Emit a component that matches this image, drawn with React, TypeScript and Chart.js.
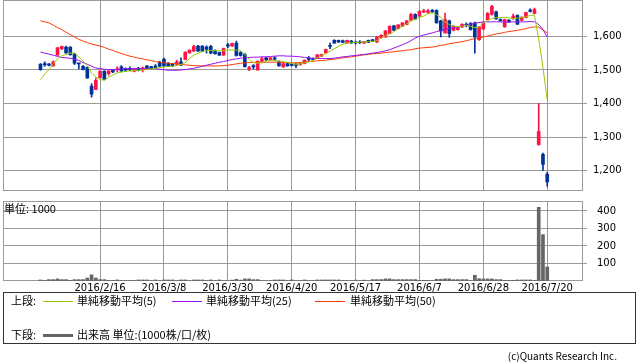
import React, { useEffect, useRef } from 'react';
import { Chart, registerables } from 'chart.js';

Chart.register(...registerables);

// ---- data (trading-day index 0 = 2016/1/26 ... 119 = 2016/7/20) ----
const openP = [
  1517, 1519, 1518, 1512, 1544, 1563, 1568, 1568, 1547, 1520, 1511, 1508, 1452, 1442, 1477, 1496, 1489, 1499, 1500, 1509,
  1504, 1504, 1496, 1505, 1501, 1512, 1510, 1512, 1523, 1532, 1520, 1517, 1517, 1524, 1531, 1551, 1556, 1571, 1571, 1568,
  1570, 1558, 1552, 1544, 1575, 1571, 1580, 1552, 1546, 1503, 1513, 1500, 1526, 1536, 1530, 1536, 1524, 1509, 1519, 1518,
  1516, 1516, 1519, 1535, 1534, 1535, 1541, 1551, 1573, 1588, 1588, 1587, 1580, 1586, 1583, 1583, 1580, 1588, 1590, 1583,
  1596, 1598, 1608, 1631, 1623, 1630, 1635, 1648, 1665, 1660, 1672, 1671, 1677, 1677, 1646, 1610, 1646, 1618, 1620, 1628,
  1636, 1638, 1640, 1590, 1622, 1650, 1665, 1673, 1650, 1628, 1648, 1655, 1662, 1648, 1656, 1678, 1668, 1278, 1249, 1190,
];
const highP = [
  1519, 1524, 1519, 1527, 1567, 1571, 1571, 1569, 1549, 1520, 1513, 1509, 1459, 1476, 1498, 1498, 1498, 1500, 1509, 1513,
  1506, 1509, 1503, 1508, 1509, 1513, 1511, 1516, 1526, 1535, 1522, 1520, 1529, 1536, 1554, 1560, 1574, 1573, 1572, 1572,
  1573, 1560, 1553, 1565, 1579, 1580, 1586, 1554, 1549, 1511, 1516, 1527, 1538, 1538, 1537, 1540, 1526, 1520, 1520, 1519,
  1521, 1521, 1530, 1540, 1536, 1546, 1547, 1562, 1580, 1590, 1589, 1589, 1589, 1588, 1586, 1587, 1585, 1589, 1591, 1600,
  1605, 1617, 1631, 1633, 1635, 1641, 1647, 1668, 1667, 1677, 1680, 1680, 1680, 1679, 1648, 1669, 1648, 1632, 1628, 1637,
  1640, 1641, 1642, 1629, 1641, 1671, 1692, 1675, 1652, 1651, 1650, 1666, 1664, 1658, 1672, 1682, 1684, 1400, 1253, 1196,
];
const lowP = [
  1499, 1511, 1512, 1511, 1543, 1560, 1549, 1544, 1516, 1503, 1500, 1475, 1419, 1442, 1476, 1470, 1484, 1492, 1494, 1494,
  1496, 1497, 1494, 1497, 1494, 1503, 1503, 1505, 1509, 1510, 1510, 1510, 1514, 1513, 1530, 1549, 1555, 1555, 1555, 1550,
  1548, 1547, 1543, 1543, 1566, 1570, 1541, 1541, 1508, 1498, 1503, 1499, 1521, 1528, 1529, 1528, 1511, 1508, 1511, 1512,
  1507, 1514, 1518, 1526, 1529, 1534, 1540, 1550, 1563, 1579, 1582, 1581, 1579, 1579, 1577, 1578, 1579, 1581, 1585, 1581,
  1594, 1597, 1607, 1617, 1622, 1629, 1634, 1647, 1650, 1659, 1670, 1668, 1670, 1639, 1598, 1609, 1597, 1616, 1618, 1626,
  1628, 1618, 1550, 1588, 1620, 1648, 1663, 1650, 1645, 1627, 1642, 1650, 1635, 1646, 1655, 1672, 1667, 1276, 1201, 1154,
];
const closeP = [
  1501, 1515, 1514, 1524, 1566, 1570, 1551, 1545, 1520, 1518, 1501, 1476, 1428, 1469, 1496, 1471, 1497, 1494, 1503, 1497,
  1499, 1501, 1501, 1499, 1506, 1505, 1505, 1507, 1511, 1512, 1512, 1512, 1524, 1515, 1553, 1559, 1570, 1556, 1556, 1561,
  1550, 1548, 1544, 1564, 1571, 1579, 1543, 1543, 1510, 1507, 1509, 1526, 1533, 1530, 1536, 1532, 1512, 1519, 1512, 1513,
  1513, 1520, 1529, 1531, 1531, 1545, 1546, 1561, 1570, 1580, 1583, 1582, 1588, 1580, 1580, 1581, 1584, 1582, 1586, 1598,
  1603, 1616, 1630, 1618, 1634, 1640, 1646, 1665, 1651, 1674, 1676, 1676, 1673, 1640, 1616, 1650, 1608, 1630, 1627, 1636,
  1632, 1620, 1598, 1628, 1640, 1668, 1689, 1652, 1646, 1650, 1643, 1660, 1636, 1657, 1671, 1674, 1680, 1317, 1219, 1167,
];
const volume = [
  6, 3, 8, 8, 12, 8, 8, 4, 8, 8, 8, 17, 35, 17, 8, 8, 4, 4, 6, 3,
  3, 3, 3, 6, 6, 6, 2, 6, 2, 6, 6, 6, 2, 6, 6, 2, 6, 6, 6, 2,
  6, 2, 6, 2, 2, 5, 10, 5, 12, 12, 8, 8, 2, 2, 2, 6, 6, 6, 2, 6,
  2, 2, 6, 2, 2, 6, 6, 6, 6, 6, 6, 2, 2, 2, 5, 2, 5, 2, 8, 8,
  8, 12, 12, 8, 8, 8, 8, 8, 8, 4, 4, 4, 2, 10, 10, 12, 12, 8, 8, 8,
  8, 2, 33, 13, 12, 12, 12, 8, 8, 4, 4, 4, 6, 6, 6, 6, 3, 421, 265, 80,
];
const ma5 = [
  1471, 1488, 1501, 1518, 1533, 1542, 1546, 1550, 1551, 1538, 1527, 1512, 1490, 1479, 1471, 1470, 1478, 1485, 1491, 1494,
  1496, 1497, 1498, 1499, 1500, 1501, 1503, 1505, 1507, 1509, 1510, 1511, 1513, 1516, 1522, 1534, 1544, 1550, 1554, 1558,
  1558, 1557, 1557, 1558, 1559, 1560, 1559, 1558, 1546, 1532, 1522, 1520, 1522, 1526, 1529, 1528, 1527, 1525, 1522, 1519,
  1517, 1518, 1521, 1524, 1528, 1536, 1543, 1548, 1556, 1563, 1570, 1576, 1580, 1581, 1582, 1583, 1583, 1584, 1585, 1586,
  1595, 1602, 1608, 1614, 1622, 1630, 1637, 1645, 1651, 1656, 1660, 1667, 1670, 1664, 1657, 1643, 1635, 1630, 1628, 1630,
  1633, 1630, 1626, 1627, 1640, 1647, 1653, 1656, 1656, 1656, 1655, 1653, 1654, 1655, 1658, 1662, 1663, 1592, 1508, 1410,
];
const ma25 = [
  1553, 1550, 1547, 1544, 1540, 1537, 1536, 1535, 1532, 1528, 1522, 1517, 1511, 1506, 1504, 1502, 1501, 1501, 1502, 1503,
  1504, 1504, 1504, 1504, 1504, 1504, 1504, 1504, 1502, 1501, 1499, 1499, 1499, 1500, 1501, 1503, 1505, 1508, 1511, 1514,
  1517, 1520, 1523, 1525, 1528, 1531, 1533, 1535, 1536, 1537, 1538, 1538, 1539, 1539, 1540, 1541, 1542, 1542, 1541, 1541,
  1540, 1539, 1537, 1536, 1534, 1534, 1534, 1534, 1534, 1535, 1537, 1539, 1540, 1542, 1543, 1545, 1546, 1548, 1550, 1552,
  1554, 1557, 1560, 1565, 1570, 1575, 1580, 1587, 1595, 1600, 1604, 1607, 1610, 1614, 1617, 1620, 1623, 1625, 1627, 1630,
  1633, 1636, 1639, 1641, 1643, 1643, 1643, 1643, 1643, 1642, 1642, 1643, 1643, 1643, 1643, 1644, 1643, 1635, 1620, 1598,
];
const ma50 = [
  1646, 1643, 1640, 1633, 1626, 1620, 1612, 1605, 1598, 1591, 1586, 1581, 1577, 1574, 1571, 1567, 1562, 1558, 1553, 1549,
  1545, 1541, 1538, 1535, 1533, 1530, 1528, 1525, 1523, 1521, 1520, 1519, 1518, 1516, 1515, 1514, 1513, 1512, 1512, 1512,
  1512, 1512, 1512, 1513, 1514, 1516, 1518, 1520, 1521, 1522, 1523, 1523, 1523, 1523, 1523, 1523, 1523, 1522, 1522, 1521,
  1521, 1522, 1524, 1525, 1526, 1527, 1528, 1529, 1531, 1532, 1534, 1536, 1538, 1539, 1541, 1543, 1545, 1546, 1548, 1549,
  1550, 1552, 1553, 1554, 1556, 1557, 1559, 1560, 1563, 1565, 1566, 1567, 1568, 1570, 1573, 1575, 1578, 1580, 1582, 1584,
  1587, 1590, 1593, 1596, 1598, 1601, 1604, 1607, 1609, 1612, 1614, 1616, 1618, 1620, 1623, 1626, 1628, 1627, 1619, 1610,
];
const tickIndex = [14, 29, 44, 59, 74, 89, 104, 119];
const tickDates = ['2016/2/16', '2016/3/8', '2016/3/30', '2016/4/20', '2016/5/17', '2016/6/7', '2016/6/28', '2016/7/20'];
const priceTicks = [1200, 1300, 1400, 1500, 1600];
const volumeTicks = [100, 200, 300, 400];

// ---- styles ----
const UP = '#ff1447';
const DOWN = '#003399';
const C_MA5 = '#99cc00';
const C_MA25 = '#9a10f0';
const C_MA50 = '#ff3a00';
const C_VOL = '#666666';
const GRID = '#999999';
const TICK_FONT = { family: 'DejaVu Sans', size: 10 };
const X_MIN = -8.8;
const X_MAX = 127.4;
const JP = '"Noto Sans CJK JP", sans-serif';

const framePlugin = {
  id: 'frame',
  beforeDatasetsDraw(chart: any) {
    const { ctx, chartArea: a } = chart;
    ctx.save();
    ctx.strokeStyle = GRID;
    ctx.lineWidth = 1;
    ctx.strokeRect(a.left + 0.5, a.top + 0.5, a.right - a.left - 1, a.bottom - a.top - 1);
    ctx.restore();
  },
};

function pts(arr: number[]) {
  return arr.map((v, i) => ({ x: i, y: v }));
}

const noPadY = (w: number) => (s: any) => { s.width = w; s.paddingTop = 0; s.paddingBottom = 0; };
const noPadX = (h: number) => (s: any) => { s.height = h; s.paddingLeft = 0; s.paddingRight = 0; };

export default function App() {
  const topRef = useRef<HTMLCanvasElement>(null);
  const botRef = useRef<HTMLCanvasElement>(null);

  useEffect(() => {
    const colors = openP.map((o, i) => (closeP[i] >= o ? UP : DOWN));
    const bodies = openP.map((o, i) => ({ x: i, y: [o, closeP[i]] }));
    const wicks = openP.map((_, i) => ({ x: i, y: [lowP[i], highP[i]] }));

    const top = new Chart(topRef.current as HTMLCanvasElement, {
      type: 'bar',
      data: {
        datasets: [
          { type: 'line', data: pts(ma5), borderColor: C_MA5, borderWidth: 1, pointRadius: 0, order: 0 } as any,
          { type: 'line', data: pts(ma25), borderColor: C_MA25, borderWidth: 1, pointRadius: 0, order: 0 } as any,
          { type: 'line', data: pts(ma50), borderColor: C_MA50, borderWidth: 1, pointRadius: 0, order: 0 } as any,
          { type: 'bar', data: bodies, backgroundColor: colors, barThickness: 3, grouped: false, minBarLength: 1, order: 1 } as any,
          { type: 'bar', data: wicks, backgroundColor: colors, barThickness: 1, grouped: false, order: 2 } as any,
        ],
      },
      options: {
        animation: false,
        responsive: false,
        maintainAspectRatio: false,
        layout: { autoPadding: false, padding: { left: 3, top: 0, right: 0, bottom: 0 } },
        plugins: { legend: { display: false }, tooltip: { enabled: false } },
        scales: {
          x: {
            type: 'linear',
            offset: false,
            min: X_MIN,
            max: X_MAX,
            afterBuildTicks: (s: any) => { s.ticks = tickIndex.map((v) => ({ value: v })); },
            ticks: { display: false },
            grid: { color: GRID, drawTicks: false, offset: false },
            border: { display: false },
            afterFit: noPadX(0),
          },
          y: {
            position: 'right',
            min: 1140,
            max: 1708,
            afterBuildTicks: (s: any) => { s.ticks = priceTicks.map((v) => ({ value: v })); },
            ticks: { color: '#000', font: TICK_FONT, padding: 6, callback: (v: any) => Number(v).toLocaleString('en-US') },
            grid: { color: GRID, tickLength: 4 },
            border: { display: false },
            afterFit: noPadY(55),
          },
        },
      } as any,
      plugins: [framePlugin],
    });

    const bot = new Chart(botRef.current as HTMLCanvasElement, {
      type: 'bar',
      data: {
        datasets: [
          { data: pts(volume), backgroundColor: C_VOL, barThickness: 3, grouped: false } as any,
        ],
      },
      options: {
        animation: false,
        responsive: false,
        maintainAspectRatio: false,
        layout: { autoPadding: false, padding: { left: 3, top: 5, right: 0, bottom: 0 } },
        plugins: { legend: { display: false }, tooltip: { enabled: false } },
        scales: {
          x: {
            type: 'linear',
            offset: false,
            min: X_MIN,
            max: X_MAX,
            afterBuildTicks: (s: any) => { s.ticks = tickIndex.map((v) => ({ value: v })); },
            ticks: {
              color: '#000', font: TICK_FONT, padding: 1, autoSkip: false, maxRotation: 0, minRotation: 0,
              callback: (v: any) => tickDates[tickIndex.indexOf(Number(v))] ?? '',
            },
            grid: { color: GRID, drawTicks: false, offset: false },
            border: { display: false },
            afterFit: noPadX(15),
          },
          y: {
            position: 'right',
            min: 0,
            max: 457,
            afterBuildTicks: (s: any) => { s.ticks = volumeTicks.map((v) => ({ value: v })); },
            ticks: { color: '#000', font: TICK_FONT, padding: 10 },
            grid: { color: GRID, tickLength: 4 },
            border: { display: false },
            afterFit: noPadY(55),
          },
        },
      } as any,
      plugins: [framePlugin],
    });

    return () => { top.destroy(); bot.destroy(); };
  }, []);

  const txt = (left: number, top: number, s: string, extra: any = {}) => (
    <div style={{ position: 'absolute', left, top, fontFamily: JP, fontSize: 11, lineHeight: '13px', color: '#000', whiteSpace: 'nowrap', ...extra }}>{s}</div>
  );
  const swatch = (left: number, top: number, color: string, h = 1) => (
    <div style={{ position: 'absolute', left, top, width: 30, height: h, background: color }} />
  );

  return (
    <div style={{ position: 'absolute', left: 0, top: 0, width: 638, height: 362, background: '#fff', overflow: 'hidden' }}>
      <canvas ref={topRef} width={638} height={191} style={{ position: 'absolute', left: 0, top: 0, width: 638, height: 191 }} />
      <canvas ref={botRef} width={638} height={100} style={{ position: 'absolute', left: 0, top: 196, width: 638, height: 100 }} />
      {txt(4, 202, '単位: 1000')}
      <div style={{ position: 'absolute', left: 3, top: 292, width: 631, height: 50, border: '1px solid #333' }} />
      {txt(11, 294, '上段:')}
      {swatch(43, 301, C_MA5)}
      {txt(77, 294, '単純移動平均(5)')}
      {swatch(172, 301, C_MA25)}
      {txt(206, 294, '単純移動平均(25)')}
      {swatch(315, 301, C_MA50)}
      {txt(350, 294, '単純移動平均(50)')}
      {txt(11, 328, '下段:')}
      {swatch(43, 334, C_VOL, 3)}
      {txt(77, 328, '出来高 単位:(1000株/口/枚)')}
      {txt(0, 350, '(c)Quants Research Inc.', { left: 'auto', right: 21, fontSize: 10, lineHeight: '12px' })}
    </div>
  );
}
